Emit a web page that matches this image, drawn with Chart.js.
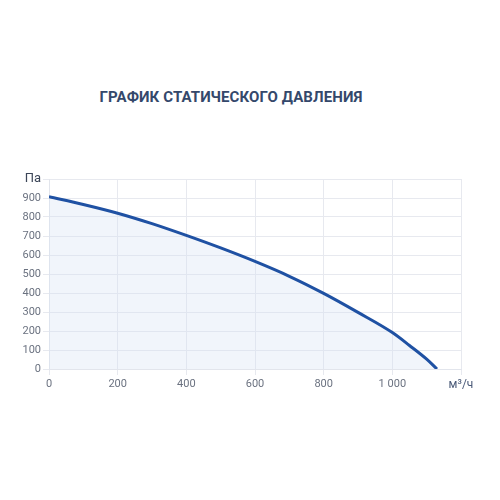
<!DOCTYPE html>
<html>
<head>
<meta charset="utf-8">
<script src="https://cdn.jsdelivr.net/npm/chart.js@4.4.1/dist/chart.umd.min.js"></script>
<style>
  body { margin: 0; background: #fff; font-family: Roboto, "Noto Sans", sans-serif; }
  #title { position: absolute; left: 0; width: 462px; top: 88px; text-align: center;
           font-size: 15px; font-weight: bold; color: #34486b; letter-spacing: 0.1px; }
  #wrap { position: absolute; left: 0; top: 165px; width: 500px; height: 235px; }
</style>
</head>
<body>
<div id="title">ГРАФИК СТАТИЧЕСКОГО ДАВЛЕНИЯ</div>
<div id="wrap"><canvas id="pressureChart"></canvas></div>
<script>
// airflow, m3/h
const flowRate = [0, 100, 200, 300, 400, 500, 600, 700, 800, 900, 1000, 1050, 1100, 1130];
// static pressure, Pa
const pressure = [907, 866, 820, 765, 703, 637, 566, 488, 398, 298, 192, 124, 52, 0];

const xTicks = [0, 200, 400, 600, 800, 1000, 1200];
const yTicks = [0, 100, 200, 300, 400, 500, 600, 700, 800, 900, 1000];
const xUnit = 'м³/ч';
const yUnit = 'Па';

const fmt = v => String(v).replace(/\B(?=(\d{3})+(?!\d))/g, ' ');

new Chart(document.getElementById('pressureChart').getContext('2d'), {
  type: 'line',
  data: {
    datasets: [{
      label: 'Статическое давление',
      data: flowRate.map((x, i) => ({ x: x, y: pressure[i] })),
      borderColor: '#1f51a3',
      backgroundColor: 'rgba(214, 226, 243, 0.35)',
      borderWidth: 3,
      fill: 'origin',
      pointRadius: 0,
      cubicInterpolationMode: 'monotone'
    }]
  },
  options: {
    responsive: true,
    maintainAspectRatio: false,
    animation: false,
    layout: { padding: { top: 14, right: 39, bottom: 6, left: 0 } },
    plugins: { legend: { display: false }, tooltip: { enabled: false } },
    scales: {
      x: {
        type: 'linear',
        min: 0, max: 1200,
        afterBuildTicks: s => { s.ticks = xTicks.map(v => ({ value: v })); },
        afterFit: s => { s.height = 25; },
        ticks: {
          color: ctx => ctx.tick && ctx.tick.value === 1200 ? '#4a5a78' : '#6b7280',
          font: ctx => ({ family: 'Roboto', size: ctx.tick && ctx.tick.value === 1200 ? 12 : 11 }),
          maxRotation: 0,
          callback: v => v === 1200 ? xUnit : fmt(v)
        },
        grid: { color: '#e7e9ef', tickLength: 6 },
        border: { color: '#e2e5ec' }
      },
      y: {
        min: 0, max: 1000,
        afterBuildTicks: s => { s.ticks = yTicks.map(v => ({ value: v })); },
        afterFit: s => { s.width = 49; },
        ticks: {
          color: ctx => ctx.tick && ctx.tick.value === 1000 ? '#3c4658' : '#6b7280',
          font: ctx => ({ family: 'Roboto', size: ctx.tick && ctx.tick.value === 1000 ? 13 : 11 }),
          padding: 2,
          callback: v => v === 1000 ? yUnit : fmt(v)
        },
        grid: { color: '#e7e9ef', tickLength: 6 },
        border: { color: '#e2e5ec' }
      }
    }
  }
});
</script>
</body>
</html>
